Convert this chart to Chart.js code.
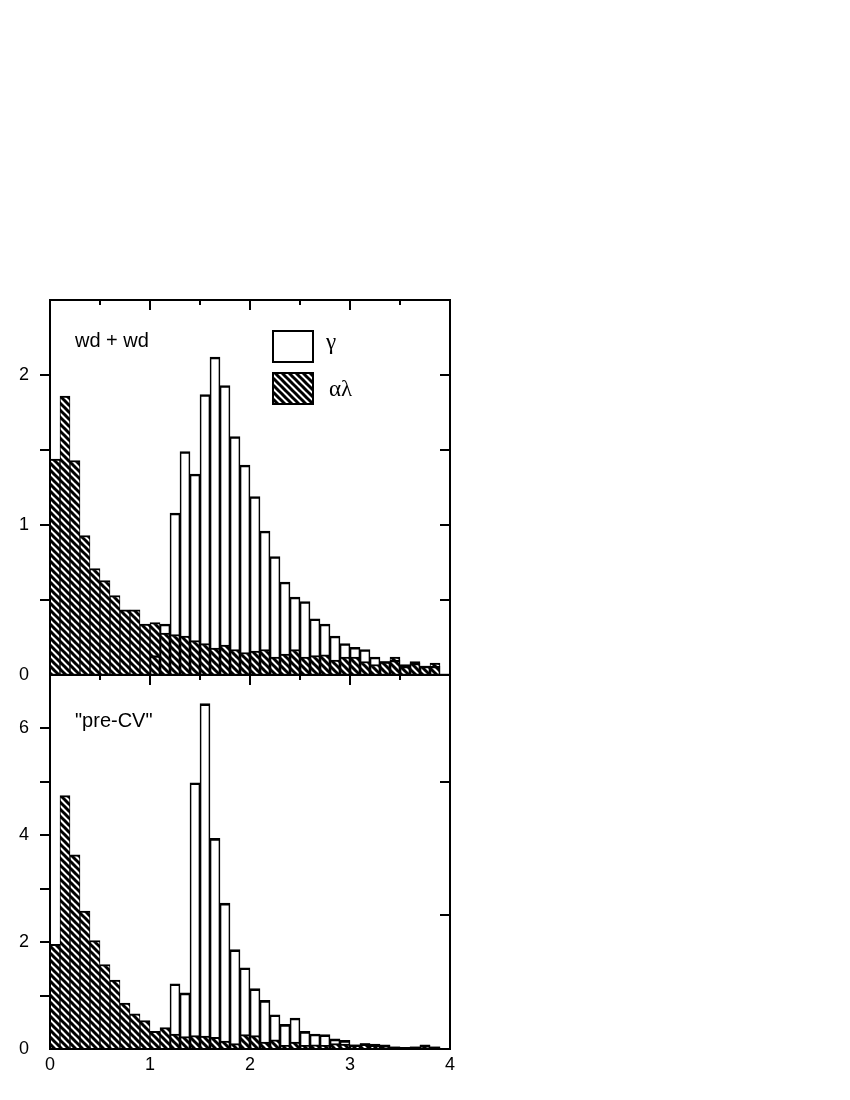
<!DOCTYPE html>
<html>
<head>
<meta charset="utf-8">
<script src="https://cdn.jsdelivr.net/npm/chart.js@4.4.0/dist/chart.umd.min.js"></script>
<style>
  body { margin: 0; background: #fff; }
  #wrap { position: relative; width: 850px; height: 1100px; }
  canvas { position: absolute; left: 0; }
  #topChart { top: 0; }
  #bottomChart { top: 651px; }
</style>
</head>
<body>
<div id="wrap">
  <canvas id="topChart" width="850" height="700"></canvas>
  <canvas id="bottomChart" width="850" height="449"></canvas>
</div>
<script>
// bin centres (bin width 0.1)
var binCenters = [0.05, 0.15, 0.25, 0.35, 0.45, 0.55, 0.65, 0.75, 0.85, 0.95,
  1.05, 1.15, 1.25, 1.35, 1.45, 1.55, 1.65, 1.75, 1.85, 1.95,
  2.05, 2.15, 2.25, 2.35, 2.45, 2.55, 2.65, 2.75, 2.85, 2.95,
  3.05, 3.15, 3.25, 3.35, 3.45, 3.55, 3.65, 3.75, 3.85];

// top panel "wd + wd"
var topGamma = [null, null, null, null, null, null, null, null, null, null,
  0.13, 0.34, 1.08, 1.49, 1.34, 1.87, 2.12, 1.93, 1.59, 1.40,
  1.19, 0.96, 0.79, 0.62, 0.52, 0.49, 0.375, 0.34, 0.26, 0.21,
  0.185, 0.17, 0.12, 0.09, 0.10, 0.06, 0.08, 0.06, 0.06];
var topAlphaLambda = [1.44, 1.86, 1.43, 0.93, 0.71, 0.63, 0.53, 0.435, 0.435, 0.34,
  0.35, 0.28, 0.27, 0.26, 0.23, 0.21, 0.18, 0.20, 0.17, 0.15,
  0.16, 0.17, 0.12, 0.14, 0.17, 0.12, 0.13, 0.135, 0.10, 0.12,
  0.12, 0.09, 0.07, 0.09, 0.12, 0.07, 0.09, 0.06, 0.08];

// bottom panel "pre-CV"
var bottomGamma = [null, null, null, null, null, null, null, null, null, null,
  null, null, 1.22, 1.05, 4.98, 6.46, 3.94, 2.73, 1.86, 1.52,
  1.13, 0.91, 0.64, 0.46, 0.58, 0.33, 0.28, 0.27, 0.19, 0.16,
  0.08, 0.10, 0.08, 0.07, 0.04, 0.03, 0.04, 0.07, 0.04];
var bottomAlphaLambda = [1.96, 4.74, 3.63, 2.58, 2.03, 1.58, 1.29, 0.86, 0.66, 0.53,
  0.33, 0.40, 0.28, 0.23, 0.25, 0.24, 0.22, 0.15, 0.10, 0.27,
  0.25, 0.13, 0.17, 0.07, 0.13, 0.07, 0.08, 0.07, 0.10, 0.09,
  0.08, 0.10, 0.09, 0.08, 0.04, 0.03, 0.04, 0.08, 0.04];

var xTickLabels = [0, 1, 2, 3, 4];
var topYTickLabels = [0, 1, 2];
var bottomYTickLabels = [0, 2, 4, 6];
var seriesNames = ["γ", "αλ"];
var panelNames = ["wd + wd", "\"pre-CV\""];

var sans = "'Liberation Sans', Arial, Helvetica, sans-serif";
var serif = "'Liberation Serif', 'Times New Roman', serif";

function makeHatch(ctx) {
  var c = document.createElement("canvas");
  c.width = 7; c.height = 7;
  var g = c.getContext("2d");
  g.fillStyle = "#fff";
  g.fillRect(0, 0, 7, 7);
  g.strokeStyle = "#000";
  g.lineWidth = 3;
  g.beginPath();
  for (var k = -7; k <= 7; k += 7) {
    g.moveTo(k - 1, -1);
    g.lineTo(k + 8, 8);
  }
  g.stroke();
  return ctx.createPattern(c, "repeat");
}

function points(vals) {
  return binCenters.map(function(x, i) { return {x: x, y: vals[i]}; });
}

// frame, tick marks, panel label and legend
var framePlugin = {
  id: "frame",
  afterDatasetsDraw: function(chart, args, o) {
    var ctx = chart.ctx, a = chart.chartArea;
    var xs = chart.scales.x, ys = chart.scales.y;
    ctx.save();
    ctx.strokeStyle = "#000";
    ctx.lineWidth = 2;
    ctx.strokeRect(a.left, a.top, a.right - a.left, a.bottom - a.top);
    ctx.beginPath();
    (o.left || []).forEach(function(v) {
      var y = Math.round(ys.getPixelForValue(v));
      ctx.moveTo(a.left - 10, y); ctx.lineTo(a.left, y);
    });
    (o.right || []).forEach(function(v) {
      var y = Math.round(ys.getPixelForValue(v));
      ctx.moveTo(a.right - 10, y); ctx.lineTo(a.right, y);
    });
    (o.top || []).forEach(function(t) {
      var x = Math.round(xs.getPixelForValue(t[0]));
      ctx.moveTo(x, a.top); ctx.lineTo(x, a.top + t[1]);
    });
    (o.bottom || []).forEach(function(t) {
      var x = Math.round(xs.getPixelForValue(t[0]));
      ctx.moveTo(x, a.bottom); ctx.lineTo(x, a.bottom + t[1]);
    });
    ctx.stroke();

    ctx.fillStyle = "#000";
    ctx.font = "20px " + sans;
    ctx.textBaseline = "alphabetic";
    ctx.fillText(o.label, a.left + 25, a.top + o.labelDy);

    if (o.legend) {
      var lx = a.left + 223, ly = a.top + 31;
      ctx.fillStyle = "#fff";
      ctx.fillRect(lx, ly, 40, 31);
      ctx.strokeRect(lx, ly, 40, 31);
      ctx.fillStyle = o.hatch;
      ctx.fillRect(lx, ly + 42, 40, 31);
      ctx.strokeRect(lx, ly + 42, 40, 31);
      ctx.fillStyle = "#000";
      ctx.font = "23px " + serif;
      ctx.fillText(seriesNames[0], lx + 53, ly + 18);
      ctx.fillText(seriesNames[1], lx + 56, ly + 65);
    }
    ctx.restore();
  }
};

function makeChart(id, gamma, alphaLambda, yMax, yLabels, showX, padding, xHeight, frameOpts) {
  var canvas = document.getElementById(id);
  var hatch = makeHatch(canvas.getContext("2d"));
  frameOpts.hatch = hatch;
  return new Chart(canvas, {
    type: "bar",
    data: {
      datasets: [{
        label: seriesNames[0],
        data: points(gamma),
        backgroundColor: "rgba(0,0,0,0)",
        borderColor: "#000",
        borderWidth: {top: 2, left: 1, right: 1, bottom: 0},
        borderSkipped: false
      }, {
        label: seriesNames[1],
        data: points(alphaLambda),
        backgroundColor: hatch,
        borderColor: "#000",
        borderWidth: {top: 2, left: 1, right: 1, bottom: 0},
        borderSkipped: false
      }]
    },
    options: {
      responsive: false,
      animation: false,
      layout: {padding: padding},
      datasets: {bar: {grouped: false, barPercentage: 1, categoryPercentage: 1}},
      plugins: {legend: {display: false}, tooltip: {enabled: false}, frame: frameOpts},
      scales: {
        x: {
          type: "linear", min: 0, max: 4, offset: false, display: showX,
          afterFit: function(s) { s.height = xHeight; },
          grid: {display: false, offset: false}, border: {display: false},
          ticks: {
            stepSize: 1, autoSkip: false, maxRotation: 0, padding: -3, color: "#000",
            font: {family: sans, size: 18},
            callback: function(v) { return xTickLabels.indexOf(v) >= 0 ? String(v) : ""; }
          }
        },
        y: {
          min: 0, max: yMax,
          afterFit: function(s) { s.width = 50; },
          grid: {display: false}, border: {display: false},
          ticks: {
            stepSize: 0.5, autoSkip: false, padding: 13, color: "#000",
            font: {family: sans, size: 18},
            callback: function(v) { return yLabels.indexOf(v) >= 0 ? String(v) : ""; }
          }
        }
      }
    },
    plugins: [framePlugin]
  });
}

makeChart("topChart", topGamma, topAlphaLambda, 2.5, topYTickLabels, false,
  {top: 300, right: 400, bottom: 25, left: 0}, 0, {
    label: panelNames[0], labelDy: 47, legend: true,
    left: [0.5, 1, 1.5, 2],
    right: [0.5, 1, 1.5, 2],
    top: [[0.5, 5], [1, 10], [1.5, 5], [2, 10], [2.5, 5], [3, 10], [3.5, 5]],
    bottom: [[0.5, 5], [1, 10], [1.5, 5], [2, 10], [2.5, 5], [3, 10], [3.5, 5]]
  });

makeChart("bottomChart", bottomGamma, bottomAlphaLambda, 7, bottomYTickLabels, true,
  {top: 0, right: 400, bottom: 0, left: 0}, 51, {
    label: panelNames[1], labelDy: 52, legend: false,
    left: [1, 2, 3, 4, 5, 6],
    right: [2.5, 5]
  });
</script>
</body>
</html>
